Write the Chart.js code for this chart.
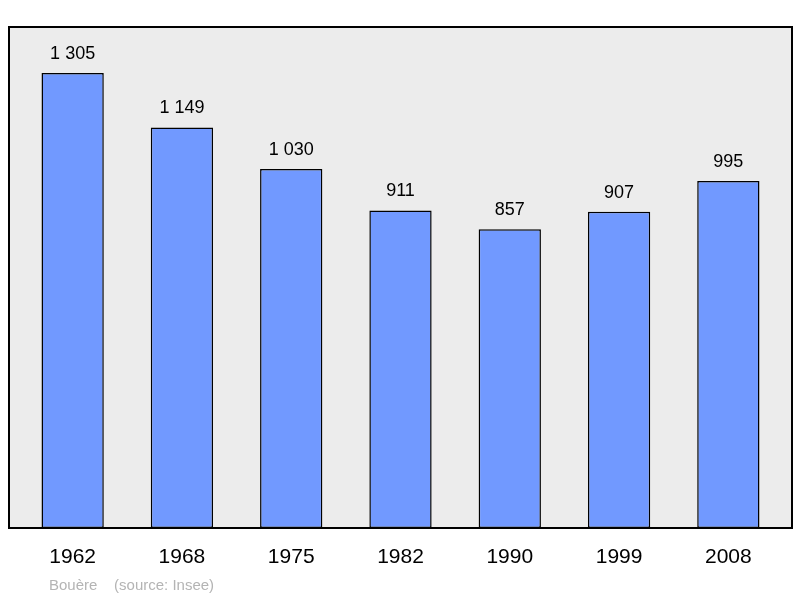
<!DOCTYPE html>
<html>
<head>
<meta charset="utf-8">
<script src="https://cdn.jsdelivr.net/npm/chart.js@4/dist/chart.umd.min.js"></script>
<style>
  body { margin: 0; background: #fff; }
  #wrap { width: 800px; height: 598px; }
</style>
</head>
<body>
<div id="wrap"><canvas id="chart"></canvas></div>
<script>
var years = ["1962", "1968", "1975", "1982", "1990", "1999", "2008"];
var population = [1305, 1149, 1030, 911, 857, 907, 995];
var valueLabels = ["1 305", "1 149", "1 030", "911", "857", "907", "995"];
var footer = "Bouère    (source: Insee)";

var decor = {
    id: 'decor',
    beforeDraw: function (chart) {
        var a = chart.chartArea, ctx = chart.ctx;
        ctx.save();
        ctx.fillStyle = '#ececec';
        ctx.fillRect(a.left - 9, a.top, a.right - a.left + 18, a.bottom - a.top);
        ctx.restore();
    },
    afterDraw: function (chart) {
        var a = chart.chartArea, ctx = chart.ctx;
        var x = chart.scales.x, y = chart.scales.y;
        ctx.save();
        ctx.strokeStyle = '#000';
        ctx.lineWidth = 2;
        ctx.strokeRect(a.left - 9, a.top, a.right - a.left + 18, a.bottom - a.top);
        ctx.fillStyle = '#000';
        ctx.textAlign = 'center';
        ctx.textBaseline = 'alphabetic';
        ctx.font = '18px "Liberation Sans", Arial, sans-serif';
        for (let i = 0; i < years.length; i++) {
            ctx.fillText(valueLabels[i], x.getPixelForValue(i), y.getPixelForValue(population[i]) - 14);
        }
        ctx.font = '21px "Liberation Sans", Arial, sans-serif';
        for (let i = 0; i < years.length; i++) {
            ctx.fillText(years[i], x.getPixelForValue(i), a.bottom + 35);
        }
        ctx.fillStyle = '#b4b4b4';
        ctx.textAlign = 'left';
        ctx.font = '15px "Liberation Sans", Arial, sans-serif';
        ctx.fillText(footer, 49, 590);
        ctx.restore();
    }
};

var ctx = document.getElementById('chart').getContext('2d');
var myChart = new Chart(ctx, {
    type: 'bar',
    data: {
        labels: years,
        datasets: [{
            data: population,
            backgroundColor: '#7199ff',
            borderColor: '#000',
            borderWidth: 1.5,
            borderSkipped: false,
            categoryPercentage: 1,
            barPercentage: 0.57
        }]
    },
    options: {
        responsive: true,
        maintainAspectRatio: false,
        animation: false,
        layout: { padding: { left: 18, right: 17, top: 27, bottom: 70 } },
        plugins: { legend: { display: false }, tooltip: { enabled: false } },
        scales: {
            x: { display: false },
            y: { display: false, min: 0, max: 1437 }
        }
    },
    plugins: [decor]
});
</script>
</body>
</html>
